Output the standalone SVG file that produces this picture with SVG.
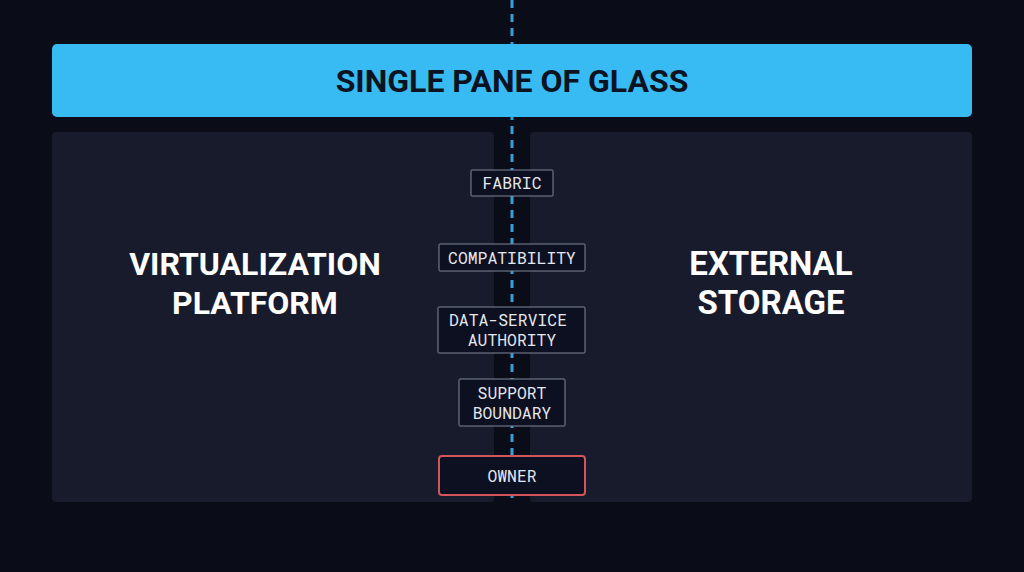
<svg xmlns="http://www.w3.org/2000/svg" width="1024" height="572" viewBox="0 0 1024 572">
  <style>
    .panel { fill: #181b2c; }
    .tag { fill: #0c1020; stroke: #7e8799; stroke-width: 1; }
    .owner { fill: #0c1020; stroke: #d3555b; stroke-width: 2; }
    .mono { font-family: "Roboto Mono", "DejaVu Sans Mono", "Liberation Mono", monospace; font-size: 16.4px; fill: #e4e7ee; text-anchor: middle; }
    .big { font-family: Roboto, "Liberation Sans", sans-serif; font-weight: 700; font-size: 32px; fill: #ffffff; text-anchor: middle; }
    .title { font-family: Roboto, "Liberation Sans", sans-serif; font-weight: 700; font-size: 32px; fill: #0b1322; text-anchor: middle; }
  </style>
  <rect x="0" y="0" width="1024" height="572" fill="#0a0d17"/>
  <g id="left-panel">
    <rect class="panel" x="52" y="132" width="442" height="370" rx="4"/>
    <text class="big" x="255" y="275">VIRTUALIZATION</text>
    <text class="big" x="255" y="314">PLATFORM</text>
  </g>
  <g id="right-panel">
    <rect class="panel" x="530" y="132" width="442" height="370" rx="4"/>
    <text class="big" x="771" y="275" style="font-size:33px">EXTERNAL</text>
    <text class="big" x="771" y="314" style="font-size:33px">STORAGE</text>
  </g>
  <g id="connectors">
    <line x1="512" y1="0" x2="512" y2="502" stroke="#3a9fd6" stroke-width="3" stroke-dasharray="8 6"/>
  </g>
  <g id="top-bar">
    <rect x="52" y="44" width="920" height="73" rx="5" fill="#38bbf2"/>
    <text class="title" x="512" y="92">SINGLE PANE OF GLASS</text>
  </g>
  <g id="fabric">
    <rect class="tag" x="471" y="170" width="82" height="26" rx="1"/>
    <text class="mono" x="512" y="189">FABRIC</text>
  </g>
  <g id="compatibility">
    <rect class="tag" x="439" y="244" width="146" height="27" rx="1"/>
    <text class="mono" x="512" y="263.5">COMPATIBILITY</text>
  </g>
  <g id="data-service-authority">
    <rect class="tag" x="438" y="307" width="147" height="46" rx="1"/>
    <text class="mono" x="508" y="326">DATA-SERVICE</text>
    <text class="mono" x="512" y="346">AUTHORITY</text>
  </g>
  <g id="support-boundary">
    <rect class="tag" x="459" y="379" width="106" height="47" rx="1"/>
    <text class="mono" x="512" y="399">SUPPORT</text>
    <text class="mono" x="512" y="419">BOUNDARY</text>
  </g>
  <g id="owner">
    <rect class="owner" x="439" y="456" width="146" height="39" rx="3"/>
    <text class="mono" x="512" y="482">OWNER</text>
  </g>
</svg>
